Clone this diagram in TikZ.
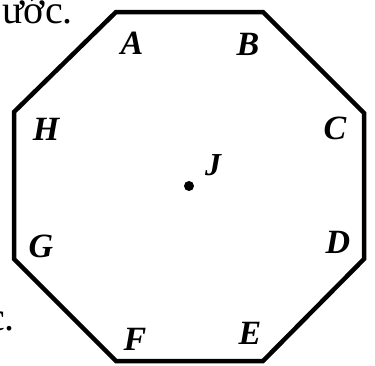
\documentclass[tikz,border=0pt]{standalone}
\usepackage{fontspec}
\setmainfont{Liberation Serif}
\usetikzlibrary{positioning}

\begin{document}
\begin{tikzpicture}[x=1pt,y=-1pt,
  lbl/.style={inner sep=0pt,font=\fontsize{34}{34}\selectfont\bfseries\itshape},
  txt/.style={inner sep=0pt,font=\fontsize{40}{40}\selectfont},
  rim/.style={line width=4.5pt,line join=miter,draw=black}]
  \useasboundingbox (0,0) rectangle (375,365);
  \draw[rim] (116,12) -- (263,12) -- (364,113) -- (364,259) -- (263,361) -- (116,361)
    -- (14,259) -- (14,112) -- cycle;
  \node[lbl] (a) at (132,43) {A};
  \node[lbl] (b) at (248,44) {B};
  \node[lbl] (c) at (335,128) {C};
  \node[lbl] (d) at (338,242) {D};
  \node[lbl] (e) at (250,333) {E};
  \node[lbl] (f) at (135,339) {F};
  \node[lbl] (g) at (41,246) {G};
  \node[lbl] (h) at (46,129) {H};
  \fill (189,186) circle (5pt) coordinate (ctr);
  \node[lbl,font=\fontsize{32}{32}\selectfont\bfseries\itshape] (j) at (213,165) {J};
  % cut-off text round the figure
  \node[txt,anchor=base east] (t1) at (73,23) {ước.};
  \node[txt,anchor=base east] (t2) at (15,330) {c.};
\end{tikzpicture}
\end{document}
